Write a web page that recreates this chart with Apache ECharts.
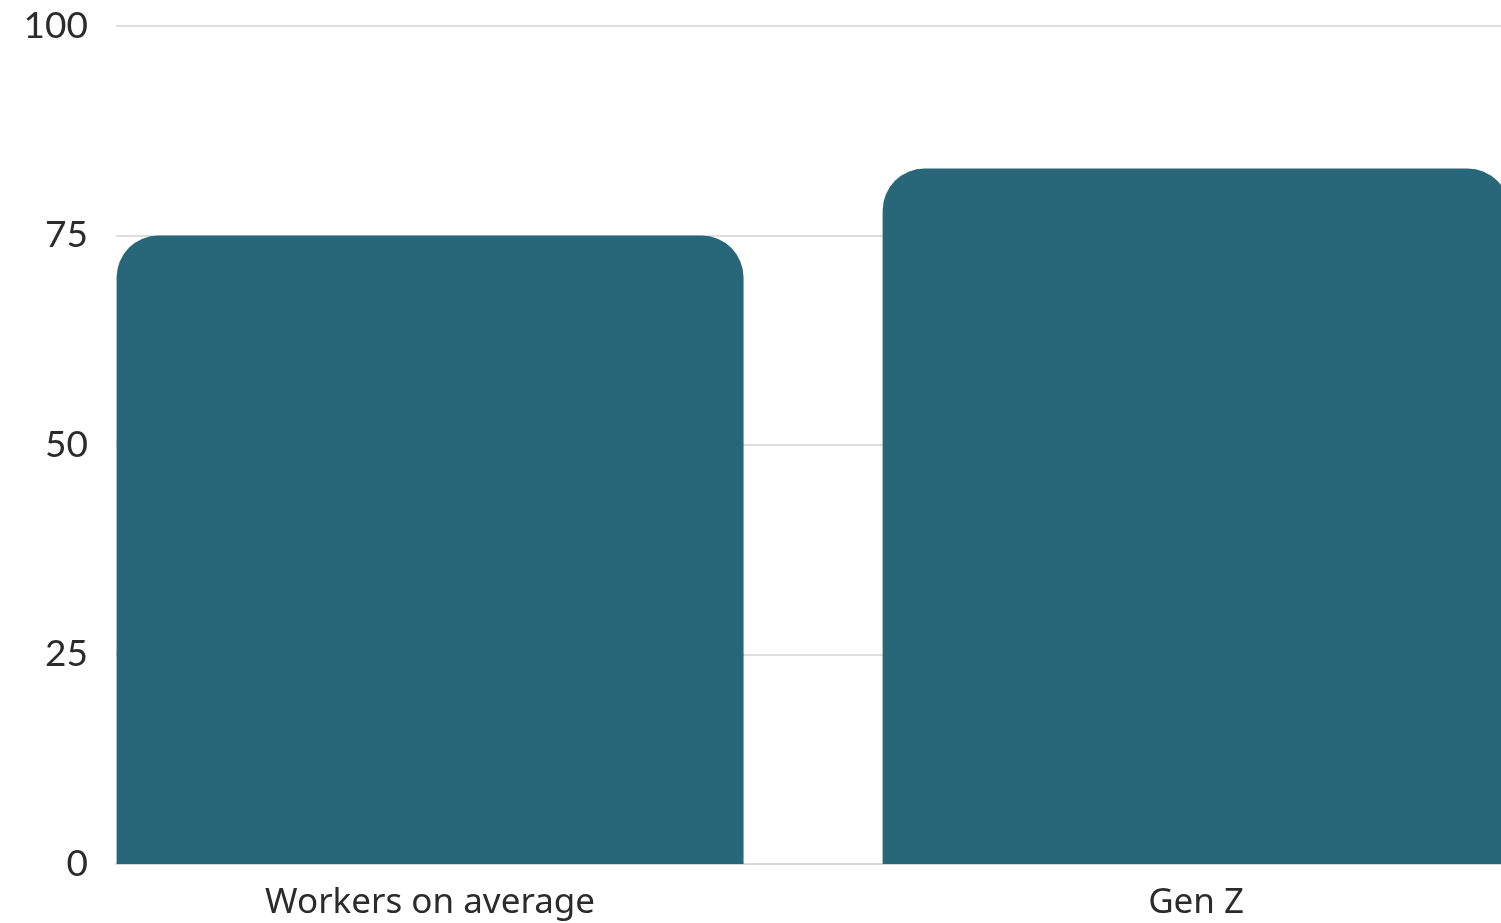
<!DOCTYPE html>
<html>
<head>
<meta charset="utf-8">
<script src="https://cdn.jsdelivr.net/npm/echarts@6/dist/echarts.min.js"></script>
<style>html,body{margin:0;padding:0;background:#fff;}#c{width:1501px;height:923px;}</style>
</head>
<body>
<div id="c"></div>
<script>
const categories = ['Workers on average', 'Gen Z'];
const values = [75, 83];
const yTicks = [0, 25, 50, 75, 100];

const chart = echarts.init(document.getElementById('c'));
chart.setOption({
  animation: false,
  backgroundColor: '#ffffff',
  grid: { left: 116, right: 0, top: 26, bottom: 59, containLabel: false },
  xAxis: {
    type: 'value',
    min: -0.41,
    max: 1.398,
    splitLine: { show: false },
    axisLine: { show: true, lineStyle: { color: '#d9d9d9', width: 2 } },
    axisTick: { show: false },
    axisLabel: {
      customValues: categories.map((c, i) => i),
      formatter: v => categories[Math.round(v)] || '',
      fontFamily: 'Noto Sans',
      fontSize: 35,
      color: '#2b2b2b',
      margin: 22
    }
  },
  yAxis: {
    type: 'value',
    min: 0,
    max: 100,
    interval: 25,
    axisLine: { show: false },
    axisTick: { show: false },
    splitLine: { lineStyle: { color: '#dedede', width: 2 } },
    axisLabel: {
      customValues: yTicks,
      fontFamily: 'Lato',
      fontSize: 37,
      color: '#2b2b2b',
      margin: 28
    }
  },
  series: [{
    type: 'bar',
    data: values.map((v, i) => [i, v]),
    barWidth: 627,
    itemStyle: { color: '#28677A', borderRadius: [42, 42, 0, 0] }
  }]
});
</script>
</body>
</html>
